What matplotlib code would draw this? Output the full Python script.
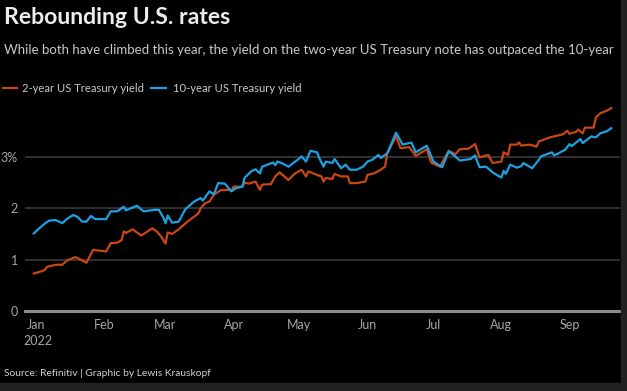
import numpy as np
import matplotlib.pyplot as plt
import matplotlib.transforms as mtransforms

plt.rcParams['font.family'] = ['Lato', 'DejaVu Sans']

# days counted from 1 Jan 2022
days_10y = [-1, 2, 4, 6, 9, 12, 14, 17, 19, 21, 23, 25, 27, 32, 34, 37, 40, 41,
            46, 49, 54, 56, 58, 59, 60, 62, 65, 68, 72, 75, 76, 79, 81, 83, 86,
            89, 91, 94, 95, 98, 100, 102, 103, 108, 109, 110, 112, 115, 119,
            121, 123, 125, 128, 129, 131, 132, 135, 136, 139, 141, 143, 146,
            149, 151, 153, 156, 157, 160, 164, 167, 171, 173, 178, 181, 185,
            188, 191, 193, 198, 200, 202, 205, 208, 211, 212, 213, 214, 216,
            219, 221, 222, 226, 229, 230, 235, 236, 238, 241, 243, 244, 248,
            249, 253, 255, 257, 260, 262]
yield_10y = [1.51, 1.63, 1.70, 1.76, 1.77, 1.71, 1.79, 1.87, 1.83, 1.74, 1.74,
             1.85, 1.79, 1.79, 1.94, 1.94, 2.03, 1.96, 2.05, 1.94, 1.97, 1.97,
             1.82, 1.71, 1.86, 1.72, 1.74, 1.98, 2.13, 2.20, 2.15, 2.33, 2.27,
             2.49, 2.48, 2.33, 2.39, 2.42, 2.59, 2.72, 2.76, 2.68, 2.81, 2.89,
             2.84, 2.91, 2.88, 2.81, 2.94, 3.01, 2.91, 3.12, 3.09, 2.98, 2.81,
             2.91, 2.88, 2.96, 2.78, 2.85, 2.75, 2.75, 2.81, 2.91, 2.94, 3.04,
             2.98, 3.07, 3.47, 3.24, 3.28, 3.09, 3.22, 2.91, 2.80, 3.11, 3.01,
             2.93, 2.96, 3.03, 2.80, 2.81, 2.70, 2.62, 2.60, 2.73, 2.67, 2.85,
             2.79, 2.82, 2.88, 2.78, 2.94, 3.01, 3.09, 3.03, 3.07, 3.14, 3.25,
             3.21, 3.35, 3.27, 3.40, 3.38, 3.46, 3.50, 3.56]

days_2y = [-1, 3, 4, 5, 9, 12, 14, 18, 19, 23, 26, 32, 34, 37, 39, 40, 41, 44,
           48, 53, 55, 57, 59, 60, 62, 65, 69, 74, 75, 77, 79, 81, 84, 87, 89,
           90, 94, 95, 97, 100, 102, 103, 107, 109, 111, 115, 118, 121, 123,
           124, 128, 130, 131, 132, 135, 136, 139, 142, 143, 146, 150, 151,
           154, 157, 159, 160, 164, 166, 170, 173, 178, 180, 184, 188, 191,
           193, 197, 200, 202, 206, 208, 212, 213, 215, 216, 219, 220, 221,
           225, 228, 229, 234, 236, 240, 242, 243, 246, 247, 249, 250, 254,
           255, 257, 260, 262]
yield_2y = [0.73, 0.78, 0.80, 0.86, 0.90, 0.90, 0.98, 1.05, 1.03, 0.94, 1.19,
            1.16, 1.32, 1.33, 1.38, 1.55, 1.52, 1.59, 1.47, 1.61, 1.55, 1.45,
            1.31, 1.53, 1.50, 1.59, 1.74, 1.90, 2.00, 2.10, 2.13, 2.26, 2.35,
            2.36, 2.35, 2.42, 2.42, 2.50, 2.48, 2.52, 2.36, 2.46, 2.47, 2.62,
            2.70, 2.55, 2.68, 2.75, 2.62, 2.72, 2.65, 2.62, 2.52, 2.59, 2.57,
            2.67, 2.62, 2.62, 2.49, 2.49, 2.52, 2.65, 2.68, 2.75, 2.81, 3.07,
            3.40, 3.17, 3.19, 3.02, 3.15, 2.89, 2.81, 3.12, 3.05, 3.15, 3.16,
            3.25, 2.99, 3.04, 2.88, 2.91, 3.09, 3.04, 3.24, 3.24, 3.28, 3.22,
            3.24, 3.20, 3.30, 3.38, 3.40, 3.44, 3.51, 3.45, 3.49, 3.53, 3.46,
            3.57, 3.57, 3.77, 3.85, 3.90, 3.95]

month_labels = ['Jan', 'Feb', 'Mar', 'Apr', 'May', 'Jun', 'Jul', 'Aug', 'Sep']
y_ticks = [0, 1, 2, 3]
y_labels = ['0', '1', '2', '3%']

orange = '#c9480f'
blue = '#1da1e2'
grey_text = '#a6a6a6'

start = np.datetime64('2022-01-01')
dates_10y = start + np.array(days_10y)
dates_2y = start + np.array(days_2y)

fig = plt.figure(figsize=(6.27, 3.91), dpi=100, facecolor='black')
W, H = 627, 391

# dark frame on right and bottom edges
fig.patches.append(plt.Rectangle((621 / W, 0), 6 / W, 1, transform=fig.transFigure,
                                 color='#222222', zorder=0))
fig.patches.append(plt.Rectangle((0, 0), 1, 8 / H, transform=fig.transFigure,
                                 color='#222222', zorder=0))

ax = fig.add_axes([25 / W, 80 / H, 595 / W, 208 / H], facecolor='black')

ax.plot(dates_2y, yield_2y, color=orange, lw=1.6, label='2-year US Treasury yield')
ax.plot(dates_10y, yield_10y, color=blue, lw=1.6, label='10-year US Treasury yield')

ax.set_xlim(start - np.timedelta64(5, 'D'), start + np.timedelta64(266, 'D'))
ax.set_ylim(0, 4.05)

for s in ax.spines.values():
    s.set_visible(False)
ax.axhline(0, color='#8c8c8c', lw=2.2, zorder=1, clip_on=False)
for v in y_ticks[1:]:
    ax.axhline(v, color='#3a3a3a', lw=1.2, zorder=0)

month_ticks = [np.datetime64(f'2022-{m:02d}-01') for m in range(1, 10)]
ax.set_xticks(month_ticks)
ax.set_xticklabels(month_labels)
ax.set_yticks(y_ticks)
ax.set_yticklabels(y_labels)
ax.tick_params(axis='both', length=0, colors=grey_text, labelsize=9)
ax.tick_params(axis='x', pad=6)
ax.tick_params(axis='y', pad=5)

trans = mtransforms.blended_transform_factory(ax.transData, fig.transFigure)
ax.text(start + np.timedelta64(1, 'D'), 1 - 341 / H, '2022', transform=trans,
        ha='center', va='center', color=grey_text, fontsize=9)

fig.text(4 / W, 1 - 17 / H, 'Rebounding U.S. rates', color='#ececec',
         fontsize=16.6, fontweight='bold', va='center', ha='left')
fig.text(4 / W, 1 - 50 / H,
         'While both have climbed this year, the yield on the two-year US Treasury note has outpaced the 10-year',
         color='#c8c8c8', fontsize=9.5, va='center', ha='left')

# legend drawn as short lines plus text
fig.lines.append(plt.Line2D([3 / W, 17 / W], [1 - 88 / H] * 2, transform=fig.transFigure,
                            color=orange, lw=1.6))
fig.text(22 / W, 1 - 88 / H, '2-year US Treasury yield', color='#c8c8c8',
         fontsize=8.1, va='center', ha='left')
fig.lines.append(plt.Line2D([151 / W, 166 / W], [1 - 88 / H] * 2, transform=fig.transFigure,
                            color=blue, lw=1.6))
fig.text(173 / W, 1 - 88 / H, '10-year US Treasury yield', color='#c8c8c8',
         fontsize=8.1, va='center', ha='left')

fig.text(4 / W, 1 - 374 / H, 'Source: Refinitiv | Graphic by Lewis Krauskopf',
         color='#d0d0d0', fontsize=7.4, va='center', ha='left')

fig.savefig('out.png', dpi=100, facecolor='black')
